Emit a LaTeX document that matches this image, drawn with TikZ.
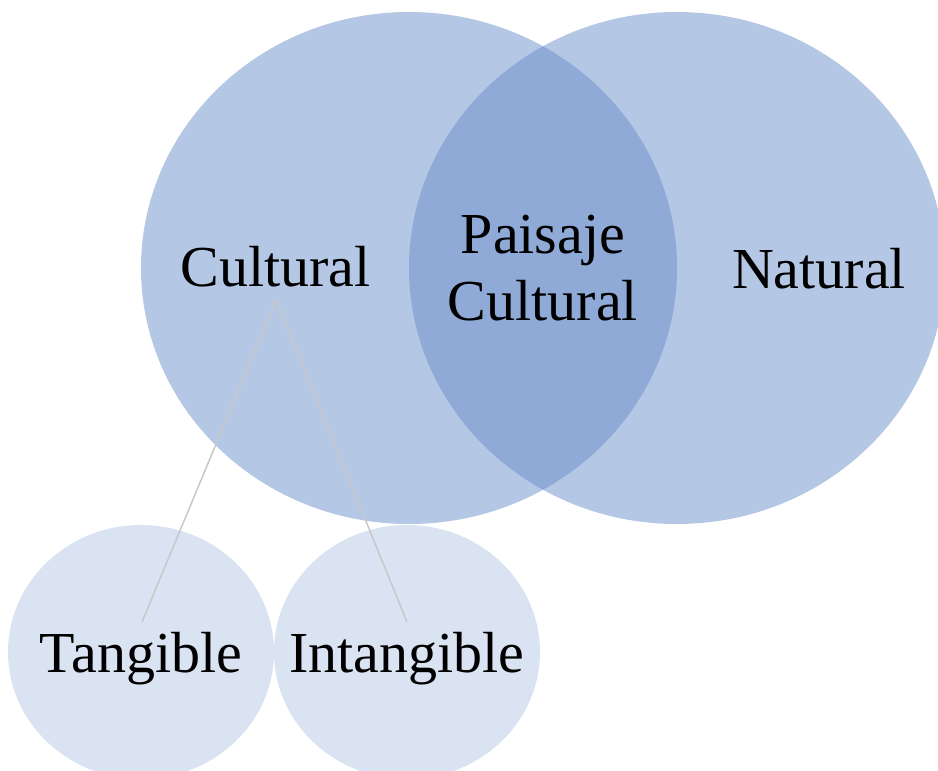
\documentclass[tikz,border=0pt]{standalone}
\usepackage{fontspec}
\setmainfont{Liberation Serif}
\usetikzlibrary{shapes.geometric}
\definecolor{bigblue}{HTML}{B4C7E4}
\definecolor{overlapblue}{HTML}{8FAAD6}
\definecolor{smallblue}{HTML}{DAE3F2}
\definecolor{linkgray}{HTML}{C8C8C8}
\tikzset{
  bigcirc/.style={ellipse, fill=bigblue, minimum width=536pt, minimum height=512pt, inner sep=0pt},
  smallcirc/.style={ellipse, fill=smallblue, minimum width=266pt, minimum height=254pt, inner sep=0pt},
  label text/.style={font=\fontsize{58}{67}\selectfont, text=black, inner sep=0pt, align=center},
  link/.style={draw=linkgray, line width=1.5pt}
}
\begin{document}
\begin{tikzpicture}[x=1pt,y=-1pt]
\useasboundingbox (0,0) rectangle (938,771);
% small circles
\node[smallcirc] (tanc) at (141,652) {};
\node[smallcirc] (intc) at (407,652) {};
% big circles
\node[bigcirc] (cultc) at (409,268) {};
\node[bigcirc] (natc) at (677,268) {};
% overlap
\begin{scope}
  \clip (409,268) ellipse [x radius=268pt, y radius=256pt];
  \fill[overlapblue] (677,268) ellipse [x radius=268pt, y radius=256pt];
\end{scope}
% connectors
\coordinate (cb) at (276,300);
\coordinate (tt) at (142,622);
\coordinate (it) at (407,622);
\draw[link] (cb) -- (tt);
\draw[link] (cb) -- (it);
% texts
\node[label text, anchor=base] (cult) at (275.5,286) {Cultural};
\node[label text, anchor=base] (nat) at (819,288) {Natural};
\node[label text, anchor=center] (pais) at (543,268.5) {Paisaje\\Cultural};
\node[label text, anchor=base] (tan) at (141,672) {Tangible};
\node[label text, anchor=base] (intg) at (407,672) {Intangible};
\end{tikzpicture}
\end{document}
